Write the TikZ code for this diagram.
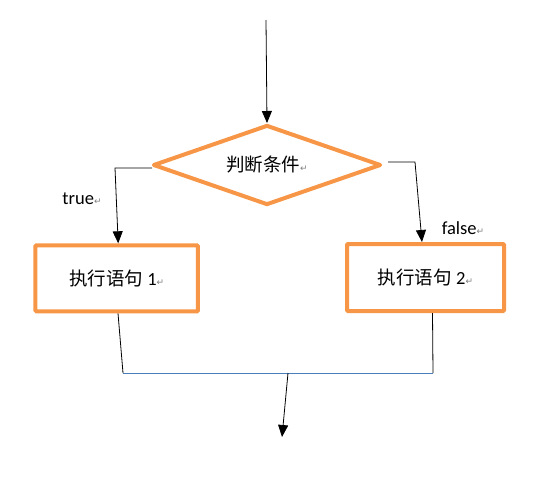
\documentclass[tikz,border=0pt]{standalone}
\usepackage{fontspec}
\setmainfont{Carlito}
\newfontfamily\cjk{Noto Sans CJK SC}
\newfontfamily\dvs{DejaVu Sans}
\usetikzlibrary{shapes.geometric,arrows.meta}
\definecolor{orng}{HTML}{F79646}
\definecolor{bline}{HTML}{4A7EBB}
\newcommand{\retmark}{{\dvs\fontsize{9}{9}\selectfont\textcolor{gray}{↵}}}
\newcommand{\cn}[1]{{\cjk\fontsize{18.5}{20}\selectfont #1}}
\begin{document}
\begin{tikzpicture}[x=1pt,y=-1pt,
  decision/.style={diamond, draw=orng, line width=4pt, aspect=2.85, minimum width=228pt, minimum height=80pt, inner sep=0pt, line join=round},
  stepbox/.style={rectangle, draw=orng, line width=4pt, inner sep=0pt, rounded corners=1pt},
  conn/.style={draw=black, line width=0.8pt},
  arr/.style={conn, -{Triangle[width=10pt,length=12pt]}},
  lbl/.style={font=\fontsize{18.5}{20}\selectfont, inner sep=0pt},
  every node/.style={font=\fontsize{18.5}{20}\selectfont}]
\useasboundingbox (0,0) rectangle (535,477);
\node[decision] (dec) at (267,165) {\cn{判断条件}\retmark};
\node[stepbox, minimum width=162.5pt, minimum height=66pt] (box1) at (116.7,278.3) {\cn{执行语句} 1\retmark};
\node[stepbox, minimum width=157pt, minimum height=67pt] (box2) at (425.5,277.5) {\cn{执行语句} 2\retmark};
\node[lbl] (t) at (82,199) {true\retmark};
\node[lbl] (f) at (463,228) {false\retmark};
\coordinate (top) at (266,20);
\coordinate (lA) at (152,168);
\coordinate (lB) at (115,168);
\coordinate (rA) at (388,162);
\coordinate (rB) at (415,162);
\coordinate (j1) at (123,373);
\coordinate (j2) at (433,373);
\coordinate (jm) at (288,373);
\coordinate (endp) at (282,437);
\draw[arr] (top) -- (dec.north);
\draw[arr] (lA) -- (lB) -- ([xshift=1.5pt]box1.north);
\draw[arr] (rA) -- (rB) -- ([xshift=-3.5pt]box2.north);
\draw[conn] ([xshift=1.3pt]box1.south) -- (j1);
\draw[conn] ([xshift=7pt]box2.south) -- (j2);
\draw[bline, line width=0.8pt] (j1) -- (j2);
\draw[arr] (jm) -- (endp);
\end{tikzpicture}
\end{document}
